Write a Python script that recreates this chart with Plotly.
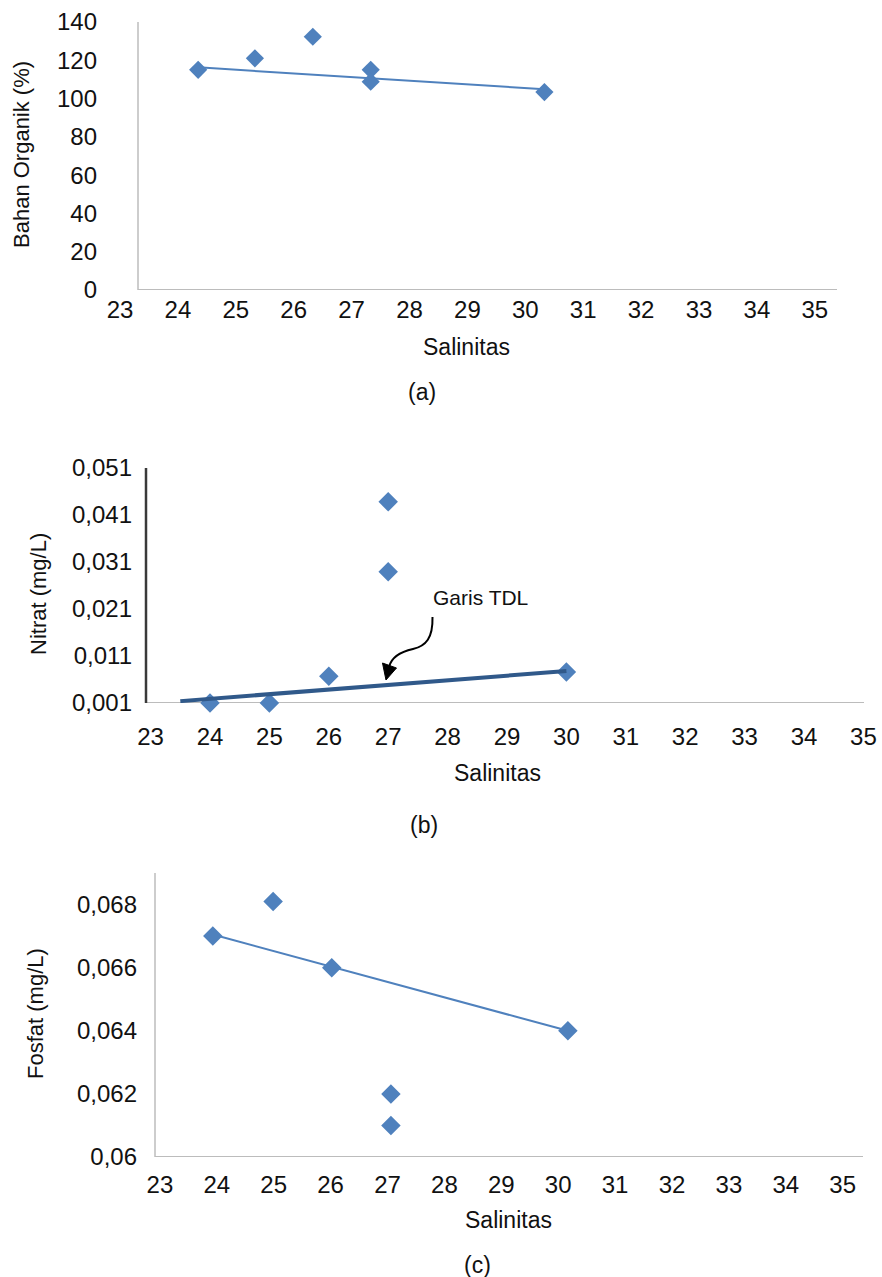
import plotly.graph_objects as go

W, H = 882, 1277

# ---------------- data ----------------
x_ticks = [23, 24, 25, 26, 27, 28, 29, 30, 31, 32, 33, 34, 35]
x_ticktext = [str(v) for v in x_ticks]

# (a) Bahan Organik vs Salinitas
a_x = [24.35, 25.33, 26.33, 27.33, 27.33, 30.33]
a_y = [115, 121, 132.3, 115, 108.8, 103.4]
a_trend_x = [24.35, 30.33]
a_trend_y = [116.3, 104.9]
a_yticks = [0, 20, 40, 60, 80, 100, 120, 140]
a_yticktext = ["0", "20", "40", "60", "80", "100", "120", "140"]

# (b) Nitrat vs Salinitas
b_x = [24, 25, 26, 27, 27, 30]
b_y = [0.001, 0.001, 0.0067, 0.0438, 0.0289, 0.0076]
b_trend_x = [23.5, 30]
b_trend_y = [0.0014, 0.0078]
b_yticks = [0.001, 0.011, 0.021, 0.031, 0.041, 0.051]
b_yticktext = ["0,001", "0,011", "0,021", "0,031", "0,041", "0,051"]

# (c) Fosfat vs Salinitas
c_x = [23.93, 24.99, 26.02, 27.06, 27.06, 30.17]
c_y = [0.0670, 0.0681, 0.0660, 0.0620, 0.0610, 0.0640]
c_trend_x = [23.93, 30.17]
c_trend_y = [0.06705, 0.0640]
c_yticks = [0.06, 0.062, 0.064, 0.066, 0.068]
c_yticktext = ["0,06", "0,062", "0,064", "0,066", "0,068"]

# ---------------- styling ----------------
FONT = "Liberation Sans, Arial, sans-serif"
MARK = "#4F81BD"
TXT = "#111111"


def px(x):
    return x / W


def py(y):
    return 1 - y / H


def xrange_for(x23_px, per_unit, left_px, right_px):
    return [23 + (left_px - x23_px) / per_unit, 23 + (right_px - x23_px) / per_unit]


fig = go.Figure()

panels = [
    ("", a_x, a_y, a_trend_x, a_trend_y, 14, MARK, 2, False),
    ("2", b_x, b_y, b_trend_x, b_trend_y, 15, "#30598A", 4, True),
    ("3", c_x, c_y, c_trend_x, c_trend_y, 15, MARK, 2, False),
]
for suf, xs, ys, tx, ty, ms, tc, tw, line_on_top in panels:
    line = go.Scatter(x=tx, y=ty, mode="lines", xaxis="x" + suf, yaxis="y" + suf,
                      line=dict(color=tc, width=tw), cliponaxis=False, hoverinfo="skip")
    pts = go.Scatter(x=xs, y=ys, mode="markers", xaxis="x" + suf, yaxis="y" + suf,
                     marker=dict(symbol="diamond", size=ms, color=MARK), cliponaxis=False)
    if line_on_top:
        fig.add_trace(pts)
        fig.add_trace(line)
    else:
        fig.add_trace(line)
        fig.add_trace(pts)

tickfont = dict(family=FONT, size=24, color=TXT)


def xaxis(dom, rng, standoff, anchor):
    return dict(domain=dom, range=rng, tickvals=x_ticks, ticktext=x_ticktext, showgrid=False,
                zeroline=False, showline=False, ticks="", tickfont=tickfont, anchor=anchor,
                ticklabelstandoff=standoff, fixedrange=True, automargin=False)


def yaxis(dom, rng, tv, tt, standoff, anchor):
    return dict(domain=dom, range=rng, tickvals=tv, ticktext=tt, showgrid=False, zeroline=False,
                showline=False, ticks="", tickfont=tickfont, anchor=anchor,
                ticklabelstandoff=standoff, fixedrange=True, automargin=False)


# panel geometry (pixels)
A = dict(l=100, r=850, t=22, b=290, x23=120, pu=57.9)
B = dict(l=135, r=880, t=468, b=703, x23=150.6, pu=59.4)
C = dict(l=140, r=878, t=873, b=1157, x23=159.9, pu=56.9)

fig.update_layout(
    template="none",
    width=W, height=H, autosize=False,
    margin=dict(l=0, r=0, t=0, b=0, pad=0),
    paper_bgcolor="white", plot_bgcolor="white",
    showlegend=False,
    font=dict(family=FONT, color=TXT),
    xaxis=xaxis([px(A["l"]), px(A["r"])], xrange_for(A["x23"], A["pu"], A["l"], A["r"]), 3, "y"),
    yaxis=yaxis([py(A["b"]), py(A["t"])], [0, 140], a_yticks, a_yticktext, 2, "x"),
    xaxis2=xaxis([px(B["l"]), px(B["r"])], xrange_for(B["x23"], B["pu"], B["l"], B["r"]), 17, "y2"),
    yaxis2=yaxis([py(B["b"]), py(B["t"])], [0.001, 0.051], b_yticks, b_yticktext, 2, "x2"),
    xaxis3=xaxis([px(C["l"]), px(C["r"])], xrange_for(C["x23"], C["pu"], C["l"], C["r"]), 11, "y3"),
    yaxis3=yaxis([py(C["b"]), py(C["t"])], [0.06, 0.069], c_yticks, c_yticktext, 2, "x3"),
)


def xdata(P, p):
    return 23 + (p - P["x23"]) / P["pu"]


# axis lines (decoration)
shapes = []
gray_y = "#BDBDBD"
gray_x = "#A6A6A6"
for P, suf, y0, y1, ycol, yw, xline_px, xend in [
    (A, "", 0, 140, gray_y, 1.5, 138, 837),
    (B, "2", 0.001, 0.051, "#3A3A3A", 2.5, 146, 864),
    (C, "3", 0.06, 0.069, gray_y, 1.5, 155, 863),
]:
    yline_x = xdata(P, xline_px)
    shapes.append(dict(type="line", xref="x" + suf, yref="y" + suf, x0=xdata(P, xend), x1=yline_x,
                       y0=y0, y1=y0, line=dict(color=gray_x, width=1.5), layer="below"))
    shapes.append(dict(type="line", xref="x" + suf, yref="y" + suf, x0=yline_x, x1=yline_x,
                       y0=y0, y1=y1, line=dict(color=ycol, width=yw), layer="below"))


# curved arrow for "Garis TDL" (pixel path converted to paper coords)
def pt(x, y):
    return f"{px(x):.5f},{py(y):.5f}"


curve = (f"M {pt(432.5, 617)} C {pt(433, 638)} {pt(426, 646)} {pt(413, 649)} "
         f"C {pt(399, 652)} {pt(391, 659)} {pt(389, 667)}")
shapes.append(dict(type="path", xref="paper", yref="paper", path=curve,
                   line=dict(color="black", width=2)))
head = f"M {pt(382.5, 663)} L {pt(396.5, 668)} L {pt(386, 680)} Z"
shapes.append(dict(type="path", xref="paper", yref="paper", path=head,
                   line=dict(color="black", width=1), fillcolor="black"))
fig.update_layout(shapes=shapes)


# text annotations
def ann(text, x, y, size=22, angle=0):
    return dict(text=text, x=px(x), y=py(y), xref="paper", yref="paper", showarrow=False,
                xanchor="center", yanchor="middle", textangle=angle,
                font=dict(family=FONT, size=size, color=TXT))


anns = [
    ann("Bahan Organik (%)", 22, 155, 22, -90),
    ann("Salinitas", 466, 347, 23),
    ann("(a)", 422, 392, 23),
    ann("Nitrat (mg/L)", 39, 594, 22, -90),
    ann("Salinitas", 498, 773, 23),
    ann("(b)", 424, 825, 23),
    ann("Garis TDL", 480, 597, 21),
    ann("Fosfat (mg/L)", 35, 1014, 22, -90),
    ann("Salinitas", 508, 1220, 23),
    ann("(c)", 477, 1265, 23),
]
fig.update_layout(annotations=anns)

fig.write_html("out.html", config={"displayModeBar": False},
               post_script="document.body.style.margin='0';")
